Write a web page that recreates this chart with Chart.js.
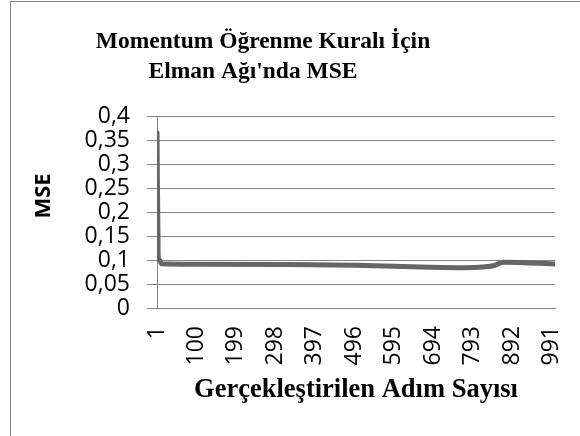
<!DOCTYPE html>
<html lang="tr">
<head>
<meta charset="utf-8">
<title>Momentum Öğrenme Kuralı İçin Elman Ağı'nda MSE</title>
<script src="https://cdn.jsdelivr.net/npm/chart.js@4.4.1/dist/chart.umd.min.js"></script>
<style>
  html, body { margin: 0; padding: 0; background: #fff; }
  .chart-wrap { position: relative; width: 580px; height: 436px; overflow: hidden; }
  .chart-frame {
    position: absolute; left: 10px; top: 1px; width: 620px; height: 500px;
    border-left: 1px solid #868686; border-top: 1px solid #868686;
  }
  #chartMse { position: absolute; left: 0; top: 0; }
</style>
</head>
<body>
<div class="chart-wrap">
  <div class="chart-frame"></div>
  <canvas id="chartMse" width="580" height="436"></canvas>
</div>
<script>
'use strict';

/* ── DATA ── */
const TITLE_LINES = ['Momentum Öğrenme Kuralı İçin', "Elman Ağı'nda MSE"];
const X_TITLE = 'Gerçekleştirilen Adım Sayısı';
const Y_TITLE = 'MSE';
const STEPS = [1, 4, 8, 12, 100, 333, 500, 685, 773, 820, 845, 860, 870, 923, 1000];
const MSE   = [0.365, 0.108, 0.100, 0.092, 0.091, 0.0905, 0.089, 0.085, 0.084, 0.0855, 0.088, 0.093, 0.0955, 0.0945, 0.0915];
const X_TICKS = [1, 100, 199, 298, 397, 496, 595, 694, 793, 892, 991];
const Y_TICKS = [0, 0.05, 0.1, 0.15, 0.2, 0.25, 0.3, 0.35, 0.4];

const GRID = '#868686';
const TICK_FONT = { family: "'Open Sans', sans-serif", size: 23 };

/* ── Titles drawn the way Excel placed them ── */
const excelTitles = {
  id: 'excelTitles',
  afterDraw(chart) {
    const { ctx } = chart;
    ctx.save();
    ctx.fillStyle = '#000';
    ctx.textAlign = 'center';
    ctx.textBaseline = 'alphabetic';
    ctx.font = "bold 23.5px 'Liberation Serif', serif";
    ctx.fillText(TITLE_LINES[0], 263, 48);
    ctx.fillText(TITLE_LINES[1], 253, 78);

    ctx.translate(44, 196);
    ctx.rotate(-Math.PI / 2);
    ctx.textBaseline = 'middle';
    ctx.font = "bold 22px 'Open Sans', sans-serif";
    ctx.fillText(Y_TITLE, 0, 0);
    ctx.restore();
  },
};

/* ── Chart ── */
new Chart(document.getElementById('chartMse'), {
  type: 'line',
  data: {
    datasets: [{
      label: Y_TITLE,
      data: STEPS.map((s, i) => ({ x: s, y: MSE[i] })),
      borderColor: '#666666',
      borderWidth: 5,
      borderCapStyle: 'round',
      borderJoinStyle: 'round',
      cubicInterpolationMode: 'monotone',
      pointRadius: 0,
      fill: false,
    }],
  },
  options: {
    responsive: false,
    animation: false,
    layout: { padding: { top: 116, right: 25, bottom: 0, left: 0 } },
    plugins: {
      legend: { display: false },
      tooltip: { enabled: false },
    },
    scales: {
      x: {
        type: 'linear',
        min: 1,
        max: 1000,
        afterBuildTicks: s => { s.ticks = X_TICKS.map(v => ({ value: v })); },
        afterFit: s => {
          s.height = 128;
          s.paddingLeft = 0;
          s.paddingRight = 0;
        },
        grid: { display: false, drawTicks: false },
        border: { display: true, color: GRID, width: 1 },
        ticks: {
          autoSkip: false,
          minRotation: 90,
          maxRotation: 90,
          padding: 18,
          color: '#000',
          font: TICK_FONT,
        },
        title: {
          display: true,
          text: X_TITLE,
          color: '#000',
          font: { family: "'Liberation Serif', serif", size: 26.5, weight: 'bold' },
          padding: { top: 0, bottom: 30 },
        },
      },
      y: {
        min: 0,
        max: 0.4,
        afterBuildTicks: s => { s.ticks = Y_TICKS.map(v => ({ value: v })); },
        afterFit: s => { s.width = 157; },
        grid: { color: GRID, lineWidth: 1, tickLength: 10 },
        border: { color: GRID, width: 1 },
        ticks: {
          autoSkip: false,
          padding: 17,
          color: '#000',
          font: TICK_FONT,
          callback: v => String(v).replace('.', ','),
        },
      },
    },
  },
  plugins: [excelTitles],
});
</script>
</body>
</html>
